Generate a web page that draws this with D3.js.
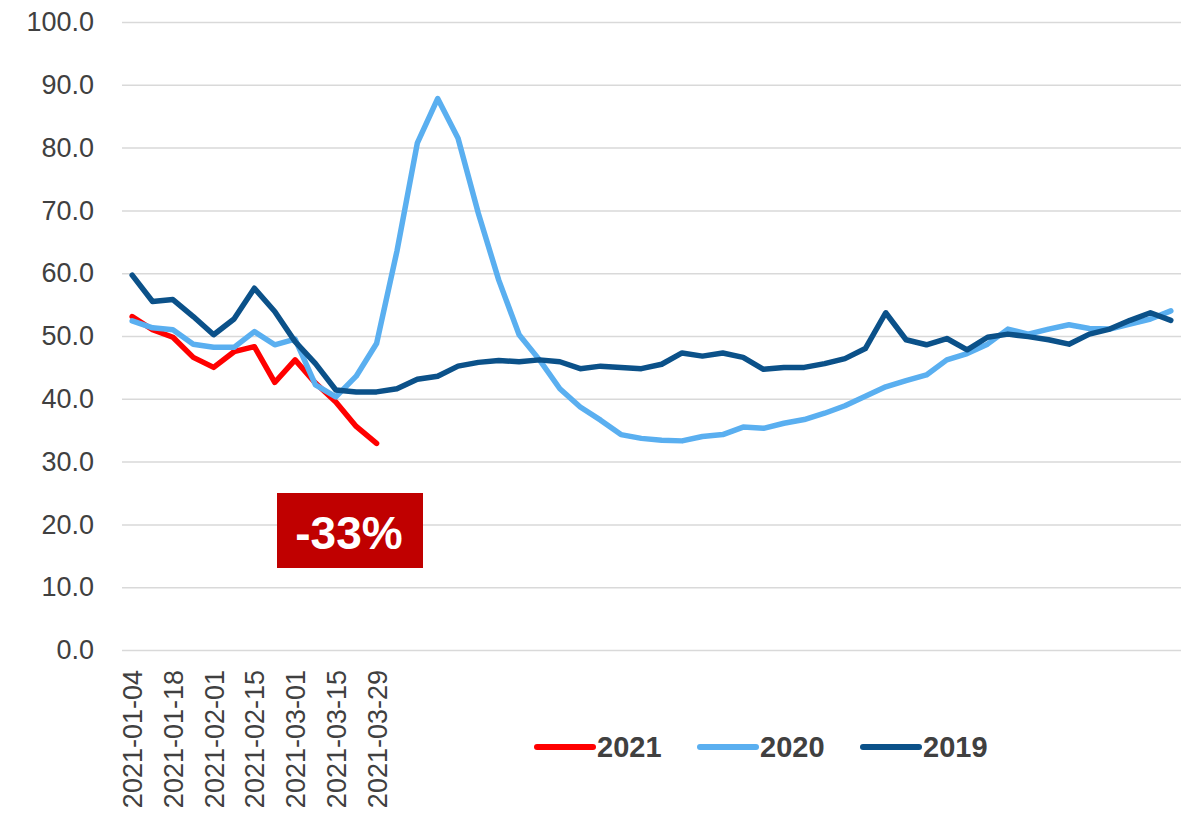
<!DOCTYPE html>
<html>
<head>
<meta charset="utf-8">
<script src="https://cdn.jsdelivr.net/npm/d3@7"></script>
<style>
  body { margin: 0; background: #fff; }
  svg { display: block; font-family: "Liberation Sans", Arial, sans-serif; }
</style>
</head>
<body>
<svg id="chart" width="1194" height="820"></svg>
<script>
// week labels (only the 2021 weeks have a date on the axis)
const weekLabels = [
  "2021-01-04", "2021-01-11", "2021-01-18", "2021-01-25", "2021-02-01",
  "2021-02-08", "2021-02-15", "2021-02-22", "2021-03-01", "2021-03-08",
  "2021-03-15", "2021-03-22", "2021-03-29"
];
const weekCount = 52;
const yTicks = [0, 10, 20, 30, 40, 50, 60, 70, 80, 90, 100];

const values2021 = [53.1, 51.0, 49.8, 46.6, 45.0, 47.5, 48.3, 42.6, 46.2, 42.5,
  39.5, 35.6, 32.9];

const values2020 = [52.4, 51.3, 51.0, 48.7, 48.2, 48.2, 50.7, 48.6, 49.5, 42.2,
  40.3, 43.6, 48.8, 63.5, 80.7, 87.8, 81.5, 69.5, 58.9, 50.2,
  46.2, 41.6, 38.7, 36.6, 34.3, 33.7, 33.4, 33.3, 34.0, 34.3,
  35.5, 35.3, 36.1, 36.7, 37.7, 38.9, 40.4, 41.9, 42.9, 43.8,
  46.2, 47.2, 48.7, 51.1, 50.3, 51.1, 51.8, 51.2, 51.1, 51.9,
  52.7, 54.0];

const values2019 = [59.7, 55.5, 55.8, 53.1, 50.2, 52.7, 57.6, 53.9, 49.1, 45.6,
  41.4, 41.1, 41.1, 41.6, 43.1, 43.6, 45.2, 45.8, 46.1, 45.9,
  46.2, 45.9, 44.8, 45.2, 45.0, 44.8, 45.5, 47.3, 46.8, 47.3,
  46.6, 44.7, 45.0, 45.0, 45.6, 46.4, 48.0, 53.7, 49.4, 48.6,
  49.6, 47.8, 49.8, 50.3, 49.9, 49.4, 48.7, 50.3, 51.1, 52.5,
  53.7, 52.5];

const series = [
  { name: "2021", values: values2021, color: "#ff0000" },
  { name: "2020", values: values2020, color: "#5aaff0" },
  { name: "2019", values: values2019, color: "#0b5189" }
];

const svg = d3.select("#chart");
const margin = { left: 122, right: 13, top: 22, bottom: 170 };
const W = 1194, H = 820;

const x = d3.scaleBand()
  .domain(d3.range(weekCount))
  .range([margin.left, W - margin.right]);
const y = d3.scaleLinear()
  .domain([0, 100])
  .range([H - margin.bottom, margin.top]);

// gridlines + y labels
const yAxis = svg.append("g")
  .attr("transform", `translate(${margin.left},0)`)
  .call(d3.axisLeft(y)
    .tickValues(yTicks)
    .tickSize(-(W - margin.left - margin.right))
    .tickPadding(28)
    .tickFormat(d3.format(".1f")));
yAxis.select(".domain").remove();
yAxis.selectAll(".tick line").attr("stroke", "#d9d9d9").attr("stroke-width", 1.5);
yAxis.selectAll(".tick text")
  .attr("fill", "#404040")
  .attr("font-size", 27);

// x labels, rotated
const labelIdx = d3.range(0, weekLabels.length, 2);
svg.append("g")
  .selectAll("text")
  .data(labelIdx)
  .join("text")
  .attr("transform", (i) => `translate(${x(i) + x.bandwidth() / 2 + 10},${y(0) + 20}) rotate(-90)`)
  .attr("text-anchor", "end")
  .attr("fill", "#404040")
  .attr("font-size", 27)
  .text((i) => weekLabels[i]);

// lines
const line = d3.line()
  .x((d, i) => x(i) + x.bandwidth() / 2)
  .y((d) => y(d));

svg.append("g")
  .selectAll("path")
  .data(series)
  .join("path")
  .attr("d", (s) => line(s.values))
  .attr("fill", "none")
  .attr("stroke", (s) => s.color)
  .attr("stroke-width", 5.5)
  .attr("stroke-linejoin", "round")
  .attr("stroke-linecap", "round");

// -33% callout
const callout = svg.append("g");
callout.append("rect")
  .attr("x", 277).attr("y", 493)
  .attr("width", 146).attr("height", 75)
  .attr("fill", "#c00000");
callout.append("text")
  .attr("x", 349).attr("y", 549)
  .attr("text-anchor", "middle")
  .attr("fill", "#fff")
  .attr("font-weight", "bold")
  .attr("font-size", 46)
  .text("-33%");

// legend
const legendX = [537, 700, 863];
const legend = svg.append("g")
  .selectAll("g")
  .data(series)
  .join("g")
  .attr("transform", (d, i) => `translate(${legendX[i]},747)`);
legend.append("line")
  .attr("x1", 0).attr("x2", 56)
  .attr("stroke", (d) => d.color)
  .attr("stroke-width", 6)
  .attr("stroke-linecap", "round");
legend.append("text")
  .attr("x", 60).attr("y", 10)
  .attr("fill", "#404040")
  .attr("font-weight", "bold")
  .attr("font-size", 29)
  .text((d) => d.name);
</script>
</body>
</html>
